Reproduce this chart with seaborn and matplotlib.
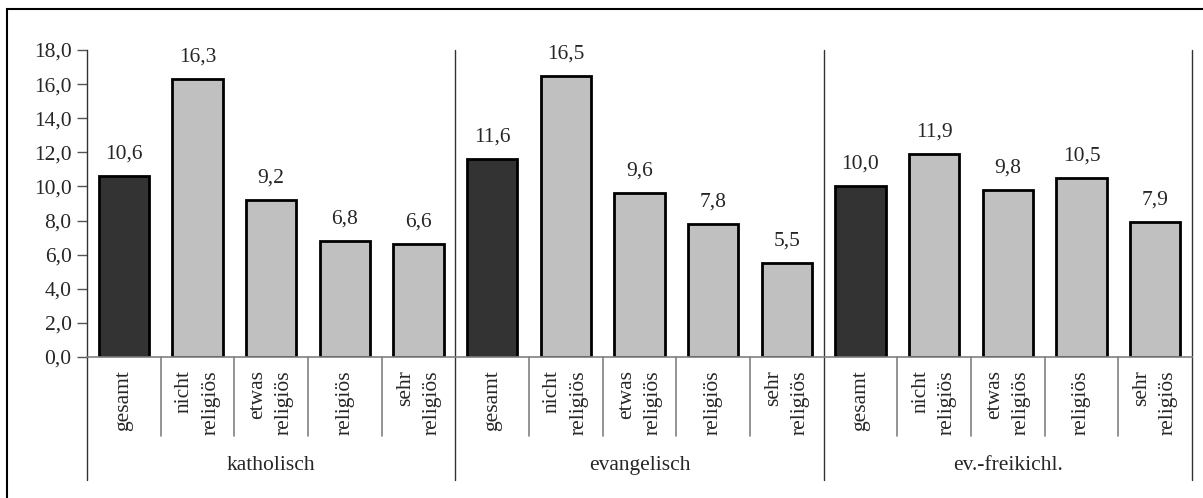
import matplotlib
matplotlib.use("Agg")
import matplotlib.pyplot as plt
import seaborn as sns
import pandas as pd
from matplotlib.patches import Rectangle

groups = ["katholisch", "evangelisch", "ev.-freikichl."]
subcats = ["gesamt", "nicht\nreligiös", "etwas\nreligiös", "religiös", "sehr\nreligiös"]
kath = [10.6, 16.3, 9.2, 6.8, 6.6]
evan = [11.6, 16.5, 9.6, 7.8, 5.5]
frei = [10.0, 11.9, 9.8, 10.5, 7.9]
yticks = [0, 2, 4, 6, 8, 10, 12, 14, 16, 18]

rows = []
for g, vals in zip(groups, [kath, evan, frei]):
    for s, v in zip(subcats, vals):
        rows.append({"group": g, "sub": s, "key": f"{g}|{s}", "value": v})
df = pd.DataFrame(rows)

sns.set_theme(style="white")
plt.rcParams["font.family"] = ["Liberation Serif", "DejaVu Serif"]
FS = 15.5

W, H = 1203, 498
fig = plt.figure(figsize=(W / 100, H / 100), dpi=100)
ax = fig.add_axes([87 / W, 141 / H, (1192 - 87) / W, 307 / H])

colors = ["#333333" if s == "gesamt" else "#c0c0c0" for s in df["sub"]]
sns.barplot(data=df, x="key", y="value", hue="key", palette=colors, legend=False,
            ax=ax, width=0.68, edgecolor="black", linewidth=2, saturation=1)

ax.set_ylim(0, 18)
ax.set_xlim(-0.5, len(df) - 0.5)
ax.set_yticks(yticks)
ax.set_yticklabels([f"{t:.1f}".replace(".", ",") for t in yticks], fontsize=FS)
ax.tick_params(axis="y", length=7, width=1, color="#555555", pad=4, left=True)
ax.set_xticks([])
ax.set_xlabel("")
ax.set_ylabel("")
for sp in ["top", "right"]:
    ax.spines[sp].set_visible(False)
ax.spines["left"].set_color("#333333")
ax.spines["left"].set_linewidth(1)
ax.spines["bottom"].set_color("#808080")
ax.spines["bottom"].set_linewidth(1.2)

# value labels
for i, v in enumerate(df["value"]):
    ax.annotate(f"{v:.1f}".replace(".", ","), (i, v), xytext=(0, 9),
                textcoords="offset points", ha="center", va="bottom", fontsize=FS)

tr = ax.get_xaxis_transform()
n = len(subcats)
# category labels and dividers
for i, s in enumerate(df["sub"]):
    ax.text(i, -0.042, s, rotation=90, ha="center", va="top", multialignment="right",
            fontsize=FS, transform=tr, linespacing=1.55)
    if i % n != 0:
        ax.plot([i - 0.5, i - 0.5], [0, -0.257], color="#808080", lw=1.2,
                transform=tr, clip_on=False)
# group dividers
for gi in range(len(groups) + 1):
    x = gi * n - 0.5
    top = 1.0 if gi > 0 else 0
    ax.plot([x, x], [top, -0.40], color="#333333", lw=1,
            transform=tr, clip_on=False)
for gi, g in enumerate(groups):
    ax.text(gi * n + (n - 1) / 2, -0.352, g, ha="center", va="center",
            fontsize=FS, transform=tr)

# figure border (partially cut off at right/bottom)
fig.patches.append(Rectangle((7 / W, -0.05), 1.1, 1 - 9 / H + 0.05,
                             transform=fig.transFigure, fill=False,
                             edgecolor="black", lw=1.5, clip_on=False))

fig.savefig("out.png", dpi=100)
